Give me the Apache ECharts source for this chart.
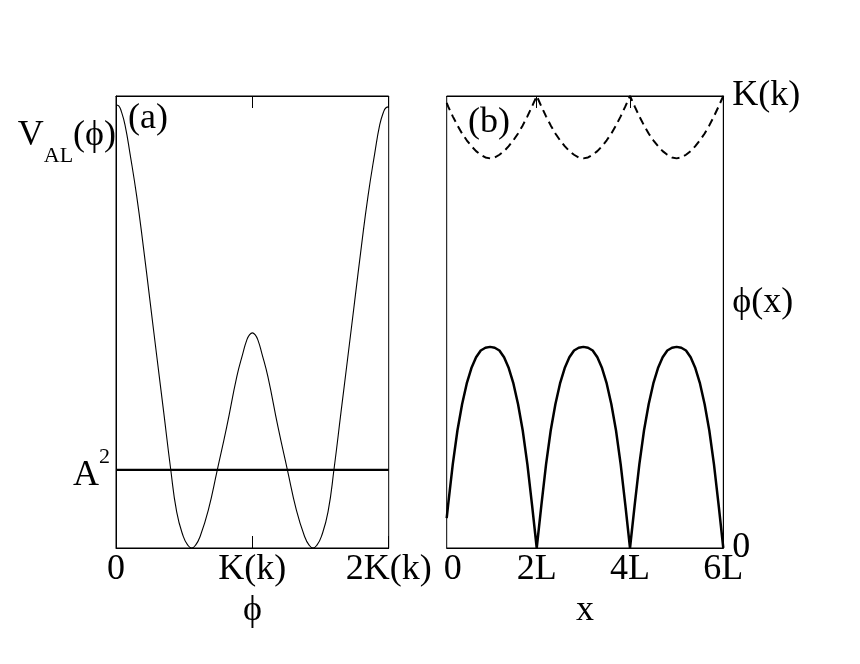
<!DOCTYPE html>
<html>
<head>
<meta charset="utf-8">
<script src="https://cdn.jsdelivr.net/npm/echarts@6/dist/echarts.min.js"></script>
<style>html,body{margin:0;padding:0;background:#fff}#c{width:860px;height:664px}</style>
</head>
<body>
<div id="c"></div>
<script>
// ---- Panel (a): potential V_AL(phi), phi in units of K(k)
var phiA = [0, 0.02, 0.04, 0.066, 0.103, 0.152, 0.2, 0.25, 0.3, 0.35, 0.4, 0.445, 0.494, 0.525, 0.555, 0.585, 0.616, 0.677, 0.743, 0.812, 0.886, 0.93, 0.959, 0.98, 1.0,
            1.02, 1.041, 1.07, 1.114, 1.188, 1.257, 1.323, 1.384, 1.415, 1.445, 1.475, 1.506, 1.555, 1.6, 1.65, 1.7, 1.75, 1.8, 1.848, 1.897, 1.934, 1.96, 1.98, 2.0];
var vA   = [0.98, 0.978, 0.965, 0.936, 0.872, 0.778, 0.668, 0.545, 0.422, 0.3, 0.177, 0.08, 0.025, 0.007, 0, 0.007, 0.025, 0.084, 0.173, 0.268, 0.379, 0.43, 0.46, 0.472, 0.476,
            0.472, 0.46, 0.43, 0.379, 0.268, 0.173, 0.084, 0.025, 0.007, 0, 0.007, 0.025, 0.08, 0.177, 0.3, 0.422, 0.545, 0.668, 0.778, 0.872, 0.936, 0.963, 0.974, 0.976];
var A2 = 0.173;
var xLabelsA = ['0', 'K(k)', '2K(k)'];

// ---- Panel (b): phi(x) (solid) and upper dashed curve, x in units of L, phi in units of K(k)
var xB = [0.07, 0.1, 0.2, 0.3, 0.4, 0.5, 0.6, 0.7, 0.8, 0.9, 1.0, 1.1, 1.2, 1.3, 1.4, 1.5, 1.6, 1.7, 1.8, 1.9, 2.0,
          2.1, 2.2, 2.3, 2.4, 2.5, 2.6, 2.7, 2.8, 2.9, 3.0, 3.1, 3.2, 3.3, 3.4, 3.5, 3.6, 3.7, 3.8, 3.9, 4.0,
          4.1, 4.2, 4.3, 4.4, 4.5, 4.6, 4.7, 4.8, 4.9, 5.0, 5.1, 5.2, 5.3, 5.4, 5.5, 5.6, 5.7, 5.8, 5.9, 6.0];
var phiB = [0.066, 0.095, 0.185, 0.26, 0.318, 0.364, 0.398, 0.422, 0.437, 0.443, 0.445, 0.443, 0.437, 0.422, 0.398, 0.364, 0.318, 0.26, 0.185, 0.095, 0,
            0.095, 0.185, 0.26, 0.318, 0.364, 0.398, 0.422, 0.437, 0.443, 0.445, 0.443, 0.437, 0.422, 0.398, 0.364, 0.318, 0.26, 0.185, 0.095, 0,
            0.095, 0.185, 0.26, 0.318, 0.364, 0.398, 0.422, 0.437, 0.443, 0.445, 0.443, 0.437, 0.422, 0.398, 0.364, 0.318, 0.26, 0.185, 0.095, 0];
var kB = [0.985, 0.977, 0.955, 0.935, 0.917, 0.902, 0.889, 0.878, 0.87, 0.864, 0.862, 0.864, 0.87, 0.878, 0.889, 0.902, 0.917, 0.935, 0.955, 0.977, 1.0,
          0.977, 0.955, 0.935, 0.917, 0.902, 0.889, 0.878, 0.87, 0.864, 0.862, 0.864, 0.87, 0.878, 0.889, 0.902, 0.917, 0.935, 0.955, 0.977, 1.0,
          0.977, 0.955, 0.935, 0.917, 0.902, 0.889, 0.878, 0.87, 0.864, 0.862, 0.864, 0.87, 0.878, 0.889, 0.902, 0.917, 0.935, 0.955, 0.977, 1.0];
var xTickB = [2, 4];
var xLabelPosB = [0.07, 2, 4, 6];
var xLabelsB = ['0', '2L', '4L', '6L'];
var yLabelPosB = [0, 0.542, 1];
var yLabelsB = ['0', 'ϕ(x)', 'K(k)'];

var FONT = "'Liberation Serif', 'DejaVu Serif', serif";
function zip(a, b) { return a.map(function (v, i) { return [v, b[i]]; }); }

var chart = echarts.init(document.getElementById('c'), null, { renderer: 'canvas' });
var lineStyle = { color: '#000', width: 1 };
var labelBase = { color: '#000', fontSize: 36, fontFamily: FONT };

chart.setOption({
  animation: false,
  backgroundColor: '#fff',
  grid: [
    { left: 116, top: 96, width: 272.7, height: 452, show: true, borderColor: '#000', borderWidth: 1, containLabel: false },
    { left: 446.7, top: 96, width: 276.6, height: 452, show: true, borderColor: '#000', borderWidth: 1, containLabel: false }
  ],
  xAxis: [
    { gridIndex: 0, type: 'value', min: 0, max: 2, interval: 1, position: 'bottom',
      axisLine: { show: true, lineStyle: lineStyle }, splitLine: { show: false },
      axisTick: { show: true, inside: true, length: 12, lineStyle: lineStyle },
      axisLabel: Object.assign({ margin: 4, showMinLabel: true, showMaxLabel: true, hideOverlap: false,
        formatter: function (v) { return xLabelsA[Math.round(v)]; } }, labelBase),
      name: 'ϕ', nameLocation: 'middle', nameGap: 40,
      nameTextStyle: { color: '#000', fontSize: 36, fontFamily: FONT } },
    { gridIndex: 0, type: 'value', min: 0, max: 2, interval: 1, position: 'top',
      axisLine: { show: true, lineStyle: lineStyle }, splitLine: { show: false },
      axisTick: { show: true, inside: true, length: 12, lineStyle: lineStyle },
      axisLabel: { show: false } },
    { gridIndex: 1, type: 'value', min: 0.07, max: 6, position: 'bottom',
      axisLine: { show: true, lineStyle: lineStyle }, splitLine: { show: false },
      axisTick: { show: true, inside: true, length: 12, lineStyle: lineStyle, customValues: xTickB },
      axisLabel: Object.assign({ margin: 4, showMinLabel: true, showMaxLabel: true, hideOverlap: false,
        customValues: xLabelPosB,
        formatter: function (v) { var i = xLabelPosB.indexOf(v); return i === 0 ? '{z|0}' : xLabelsB[i]; },
        rich: { z: { fontSize: 36, fontFamily: FONT, color: '#000', padding: [0, 0, 0, 12] } } }, labelBase),
      name: 'x', nameLocation: 'middle', nameGap: 40,
      nameTextStyle: { color: '#000', fontSize: 36, fontFamily: FONT } },
    { gridIndex: 1, type: 'value', min: 0.07, max: 6, position: 'top',
      axisLine: { show: true, lineStyle: lineStyle }, splitLine: { show: false },
      axisTick: { show: true, inside: true, length: 12, lineStyle: lineStyle, customValues: xTickB },
      axisLabel: { show: false } }
  ],
  yAxis: [
    { gridIndex: 0, type: 'value', min: 0, max: 1, position: 'left',
      axisLine: { show: true, lineStyle: lineStyle }, splitLine: { show: false },
      axisTick: { show: false },
      axisLabel: { margin: 0, customValues: [A2, 0.897], color: '#000', fontFamily: FONT,
        formatter: function (v) { return v === A2 ? '{a|A}{p|2}' : '{v|V}{s|AL}{v|(ϕ)}'; },
        rich: {
          a: { fontSize: 36, fontFamily: FONT, color: '#000', verticalAlign: 'top', padding: [12, 0, 0, 0] },
          p: { fontSize: 22, fontFamily: FONT, color: '#000', verticalAlign: 'top', padding: [0, 6, 0, 0] },
          v: { fontSize: 36, fontFamily: FONT, color: '#000', verticalAlign: 'bottom', padding: [0, 0, 14, 0] },
          s: { fontSize: 22, fontFamily: FONT, color: '#000', verticalAlign: 'bottom' }
        } } },
    { gridIndex: 1, type: 'value', min: 0, max: 1, position: 'right',
      axisLine: { show: true, lineStyle: lineStyle }, splitLine: { show: false },
      axisTick: { show: false },
      axisLabel: Object.assign({ margin: 9, customValues: yLabelPosB,
        formatter: function (v) { return yLabelsB[yLabelPosB.indexOf(v)]; } }, labelBase) }
  ],
  graphic: [
    { type: 'text', left: 128, top: 101, style: { text: '(a)', fontSize: 36, fontFamily: FONT, fill: '#000' } },
    { type: 'text', left: 468, top: 105, style: { text: '(b)', fontSize: 36, fontFamily: FONT, fill: '#000' } }
  ],
  series: [
    { type: 'line', xAxisIndex: 0, yAxisIndex: 0, data: zip(phiA, vA), showSymbol: false, symbol: 'none', smooth: 0.5,
      lineStyle: { color: '#000', width: 1.1 }, clip: true },
    { type: 'line', xAxisIndex: 0, yAxisIndex: 0, data: [[0, A2], [2, A2]], symbol: 'none',
      lineStyle: { color: '#000', width: 2.2 } },
    { type: 'line', xAxisIndex: 2, yAxisIndex: 1, data: zip(xB, phiB), symbol: 'none',
      lineStyle: { color: '#000', width: 2.5 } },
    { type: 'line', xAxisIndex: 2, yAxisIndex: 1, data: zip(xB, kB), symbol: 'none',
      lineStyle: { color: '#000', width: 2, type: [8, 5] } }
  ]
});
</script>
</body>
</html>
